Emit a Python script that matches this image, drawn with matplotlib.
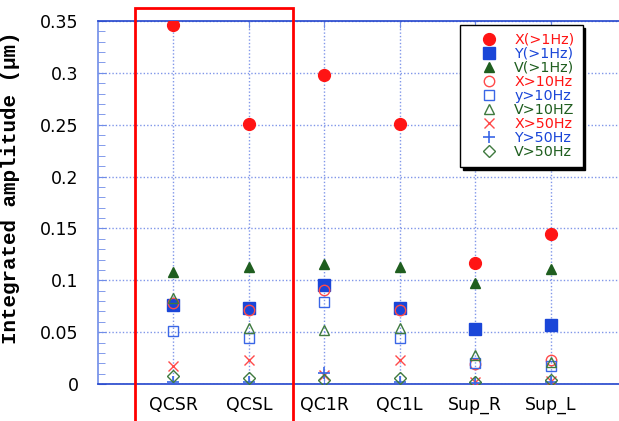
import matplotlib
matplotlib.use("Agg")
import matplotlib.pyplot as plt
from matplotlib.patches import Rectangle
from matplotlib.ticker import MultipleLocator, FuncFormatter

# Integrated vibration amplitude per magnet location
LOCATIONS = ["QCSR", "QCSL", "QC1R", "QC1L", "Sup_R", "Sup_L"]

X_1HZ = [0.346, 0.251, 0.298, 0.251, 0.117, 0.145]
Y_1HZ = [0.076, 0.073, 0.095, 0.073, 0.053, 0.057]
V_1HZ = [0.108, 0.113, 0.116, 0.113, 0.097, 0.111]
X_10HZ = [0.078, 0.071, 0.091, 0.071, 0.019, 0.023]
Y_10HZ = [0.051, 0.044, 0.079, 0.044, 0.020, 0.017]
V_10HZ = [0.083, 0.054, 0.052, 0.054, 0.028, 0.021]
X_50HZ = [0.017, 0.023, 0.009, 0.023, 0.002, 0.003]
Y_50HZ = [0.002, 0.002, 0.011, 0.002, 0.001, 0.002]
V_50HZ = [0.008, 0.006, 0.004, 0.006, 0.002, 0.004]

RED = "#ff1414"
BLUE = "#1a46d8"
GREEN = "#1f5e1f"
RED_LT = "#ff4a4a"
BLUE_LT = "#3a66e6"
GREEN_LT = "#3f7a3f"

series = [
    ("X(>1Hz)", X_1HZ, dict(marker="o", color=RED, ms=8.5)),
    ("Y(>1Hz)", Y_1HZ, dict(marker="s", color=BLUE, ms=8)),
    ("V(>1Hz)", V_1HZ, dict(marker="^", color=GREEN, ms=7.5)),
    ("X>10Hz", X_10HZ, dict(marker="o", color=RED_LT, ms=7.5, mfc="none", mew=1)),
    ("y>10Hz", Y_10HZ, dict(marker="s", color=BLUE_LT, ms=7.5, mfc="none", mew=1)),
    ("V>10HZ", V_10HZ, dict(marker="^", color=GREEN_LT, ms=7.5, mfc="none", mew=1)),
    ("X>50Hz", X_50HZ, dict(marker="x", color=RED_LT, ms=7.5, mew=1)),
    ("Y>50Hz", Y_50HZ, dict(marker="+", color=BLUE_LT, ms=9, mew=1.2)),
    ("V>50Hz", V_50HZ, dict(marker="D", color=GREEN_LT, ms=6, mfc="none", mew=1)),
]
text_colors = [RED, BLUE, GREEN, RED, BLUE, GREEN, RED, BLUE, GREEN]

fig = plt.figure(figsize=(6.19, 4.21), dpi=100)
ax = fig.add_axes([98 / 619, 1 - 384 / 421, 528 / 619, 363 / 421])

xs = list(range(1, len(LOCATIONS) + 1))
for label, vals, style in series:
    ax.plot(xs, vals, linestyle="none", label=label, zorder=3, **style)

ax.set_xlim(0, 7)
ax.set_ylim(0, 0.35)
ax.set_xticks(xs)
ax.set_xticklabels(LOCATIONS)
ax.yaxis.set_major_locator(MultipleLocator(0.05))
ax.yaxis.set_minor_locator(MultipleLocator(0.01))
ax.yaxis.set_major_formatter(FuncFormatter(lambda v, p: f"{v:.2f}".rstrip("0").rstrip(".") if v else "0"))

ax.grid(True, which="major", color="#4a6ae0", linestyle=(0, (1, 1.5)), linewidth=1.0, alpha=0.7)
ax.set_axisbelow(True)

for side in ("top", "bottom"):
    ax.spines[side].set_color("#2244cc")
    ax.spines[side].set_linewidth(1.2)
ax.spines["left"].set_color("#6f8ce8")
ax.spines["left"].set_linewidth(1.2)
ax.spines["right"].set_visible(False)

ax.tick_params(axis="both", which="both", direction="in", colors="#6f8ce8", labelcolor="black")
ax.tick_params(axis="x", which="major", top=True, length=5, pad=9, labelsize=12.5)
ax.tick_params(axis="y", which="major", length=6, pad=14, labelsize=12.5)
ax.tick_params(axis="y", which="minor", length=5)

ax.set_ylabel("Integrated amplitude (μm)", family=["Liberation Mono", "DejaVu Sans Mono"],
              fontweight="bold", fontsize=15)
ax.yaxis.set_label_coords(-78 / 528, 0.54)

# highlight box around the final-focus pair, running off the bottom edge
box = Rectangle((0.49, -0.06), 2.1, 0.4225, fill=False, edgecolor="#ff0000",
                linewidth=2.0, clip_on=False, zorder=5)
ax.add_patch(box)

leg = ax.legend(loc="upper left", bbox_to_anchor=(460 / 619, 1 - 25 / 421),
                bbox_transform=fig.transFigure, fontsize=10.3, frameon=True,
                fancybox=False, edgecolor="black", framealpha=1,
                shadow={"color": "black", "alpha": 1}, labelspacing=0.0,
                handletextpad=0.35, handlelength=2.9, borderpad=0.55, borderaxespad=0)
leg.get_frame().set_linewidth(1.0)
for txt, c in zip(leg.get_texts(), text_colors):
    txt.set_color(c)

fig.savefig("out.png", dpi=100)
